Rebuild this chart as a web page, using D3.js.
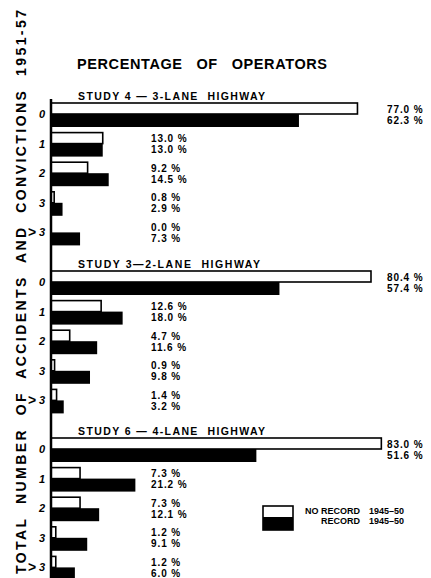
<!DOCTYPE html>
<html>
<head>
<meta charset="utf-8">
<script src="https://cdn.jsdelivr.net/npm/d3@7/dist/d3.min.js"></script>
<style>
  html, body { margin: 0; padding: 0; background: #fff; }
  svg { display: block; }
  text { font-family: "Liberation Sans", Arial, sans-serif; font-weight: bold; fill: #000; }
</style>
</head>
<body>
<div id="chart"></div>
<script>
// ---- data ----
const categories = ["0", "1", "2", "3", ">3"];
const studies = ["STUDY 4 \u2014 3-LANE  HIGHWAY", "STUDY 3\u20142-LANE  HIGHWAY", "STUDY 6 \u2014 4-LANE  HIGHWAY"];
const noRecord4 = [77.0, 13.0, 9.2, 0.8, 0.0];
const record4   = [62.3, 13.0, 14.5, 2.9, 7.3];
const noRecord3 = [80.4, 12.6, 4.7, 0.9, 1.4];
const record3   = [57.4, 18.0, 11.6, 9.8, 3.2];
const noRecord6 = [83.0, 7.3, 7.3, 1.2, 1.2];
const record6   = [51.6, 21.2, 12.1, 9.1, 6.0];
const seriesNames = ["NO RECORD", "RECORD"];
const seriesYears = ["1945\u201350", "1945\u201350"];
const chartTitle = "PERCENTAGE   OF   OPERATORS";
const yTitle = "TOTAL  NUMBER  OF  ACCIDENTS  AND  CONVICTIONS  1951-57";

const sections = [
  { title: studies[0], none: noRecord4, rec: record4, len: 187 },
  { title: studies[1], none: noRecord3, rec: record3, len: 182 },
  { title: studies[2], none: noRecord6, rec: record6, len: 187 }
];

// ---- layout ----
const W = 431, H = 578;
const axisX = 51;
const sectionTops = [103, 271, 438];
const sectionH = 148;
const whiteH = 11, blackH = 13;

const svg = d3.select("#chart").append("svg").attr("width", W).attr("height", H);

const x = d3.scaleLinear().domain([0, 100]).range([axisX, axisX + 398]);
const sec = d3.scaleOrdinal().domain(d3.range(sections.length)).range(sectionTops);
const fmt = d3.format(".1f");

sections.forEach((s, i) => {
  const top = sec(i);
  const y = d3.scaleBand().domain(categories).range([top, top + sectionH]).padding(0);
  const g = svg.append("g");

  // study header
  g.append("text").attr("x", 78).attr("y", top - 3)
    .style("font-size", "10.5px")
    .attr("textLength", s.len).attr("lengthAdjust", "spacing")
    .attr("xml:space", "preserve").text(s.title);

  const rows = categories.map((c, j) => ({ c, j, none: s.none[j], rec: s.rec[j] }));

  // white (no record) bars
  g.selectAll("rect.none").data(rows).join("rect").attr("class", "none")
    .attr("x", x(0)).attr("y", d => y(d.c))
    .attr("width", d => Math.max(0, x(d.none) - x(0)))
    .attr("height", whiteH)
    .attr("fill", "#fff").attr("stroke", "#000").attr("stroke-width", 1.6)
    .attr("display", d => d.none > 0 ? null : "none");

  // black (record) bars
  g.selectAll("rect.rec").data(rows).join("rect").attr("class", "rec")
    .attr("x", x(0)).attr("y", d => y(d.c) + whiteH)
    .attr("width", d => x(d.rec) - x(0))
    .attr("height", blackH)
    .attr("fill", "#000");

  // category labels
  const lab = g.selectAll("g.cat").data(rows).join("g").attr("class", "cat");
  lab.append("text").attr("x", 45).attr("y", d => y(d.c) + whiteH + 4)
    .attr("text-anchor", "end").style("font-size", "11px").style("font-style", "italic")
    .text(d => d.c.replace(">", ""));
  lab.filter(d => d.c.startsWith(">")).append("text")
    .attr("x", 28).attr("y", d => y(d.c) + whiteH + 5)
    .style("font-size", "14px").text(">");

  // value labels
  const vx = d => d.j === 0 ? 387 : 151;
  g.selectAll("text.vn").data(rows).join("text").attr("class", "vn")
    .attr("x", vx).attr("y", d => y(d.c) + whiteH / 2 + 4)
    .style("font-size", "10px").style("letter-spacing", "0.9px")
    .text(d => fmt(d.none) + " %");
  g.selectAll("text.vr").data(rows).join("text").attr("class", "vr")
    .attr("x", vx).attr("y", d => y(d.c) + whiteH + blackH / 2 + 3)
    .style("font-size", "10px").style("letter-spacing", "0.9px")
    .text(d => fmt(d.rec) + " %");
});

// vertical axis line
svg.append("line").attr("x1", axisX).attr("x2", axisX).attr("y1", 99).attr("y2", H)
  .attr("stroke", "#000").attr("stroke-width", 2.5);

// chart title
svg.append("text").attr("x", 202).attr("y", 69).attr("text-anchor", "middle")
  .attr("xml:space", "preserve")
  .attr("textLength", 250).attr("lengthAdjust", "spacing")
  .style("font-size", "14.5px").text(chartTitle);

// rotated y title
svg.append("text")
  .attr("transform", "translate(26,574) rotate(-90)")
  .attr("xml:space", "preserve")
  .attr("textLength", 564).attr("lengthAdjust", "spacing")
  .style("font-size", "14px").text(yTitle);

// legend
const lg = svg.append("g");
lg.append("rect").attr("x", 263).attr("y", 506).attr("width", 30).attr("height", 24)
  .attr("fill", "#fff").attr("stroke", "#000").attr("stroke-width", 1.6);
lg.append("rect").attr("x", 263).attr("y", 517).attr("width", 30).attr("height", 13)
  .attr("fill", "#000");
const ly = [514, 524];
seriesNames.forEach((n, i) => {
  lg.append("text").attr("x", 360).attr("y", ly[i]).attr("text-anchor", "end")
    .style("font-size", "9px").text(n);
  lg.append("text").attr("x", 369).attr("y", ly[i])
    .style("font-size", "9px").text(seriesYears[i]);
});
</script>
</body>
</html>
